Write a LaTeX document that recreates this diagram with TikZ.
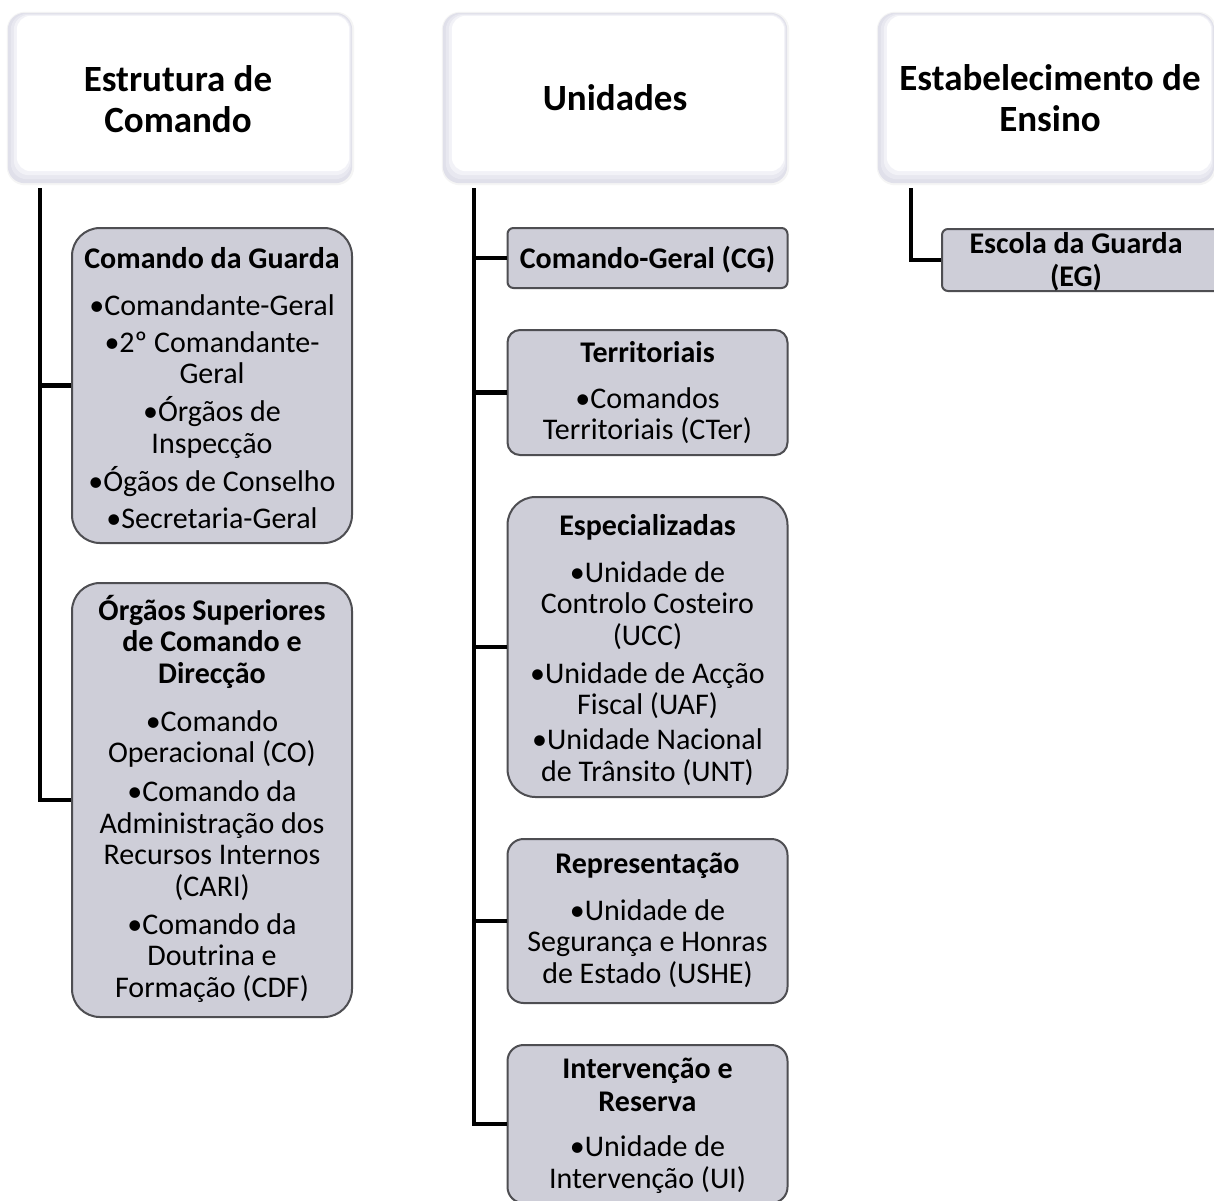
\documentclass[tikz,border=0pt]{standalone}
\usepackage{fontspec}
\setmainfont{Carlito}
\usetikzlibrary{backgrounds}
\definecolor{boxfill}{RGB}{206,206,216}
\definecolor{boxline}{RGB}{78,78,82}
\definecolor{bevA}{RGB}{224,224,234}
\definecolor{bevB}{RGB}{232,232,240}
\definecolor{bevC}{RGB}{242,242,247}
\newcommand\boxtitle[1]{\textbf{#1}}
\newcommand\firstline{\rule{0pt}{27pt}}
\newcommand\firsthead{\rule{0pt}{32pt}}
\newcommand\bevelbox[1]{%
  \fill[gray!8, rounded corners=18pt] ([xshift=-1pt,yshift=-2pt]#1.south west) rectangle ([xshift=2pt,yshift=1pt]#1.north east);
  \fill[bevA, rounded corners=17pt] (#1.south west) rectangle (#1.north east);
  \fill[bevB, rounded corners=16pt] ([xshift=3pt,yshift=4pt]#1.south west) rectangle ([xshift=-1pt,yshift=-1pt]#1.north east);
  \fill[bevC, rounded corners=15pt] ([xshift=6pt,yshift=8pt]#1.south west) rectangle ([xshift=-2pt,yshift=-2pt]#1.north east);
  \fill[white, rounded corners=14pt] ([xshift=9pt,yshift=12pt]#1.south west) rectangle ([xshift=-3pt,yshift=-3pt]#1.north east);
}
\begin{document}
\begin{tikzpicture}[x=1pt,y=-1pt,
  conn/.style={line width=4.5pt, black},
  hdrbox/.style={rectangle, inner sep=0pt, minimum height=170pt},
  subbox/.style={draw=boxline, line width=2pt, fill=boxfill, rectangle, inner sep=0pt, minimum width=280pt},
  hdrtext/.style={font=\fontsize{37}{41}\selectfont\bfseries, align=center, anchor=north, inner sep=0pt},
  bodytext/.style={font=\fontsize{30}{31.5}\selectfont, align=center, anchor=north, inner sep=0pt},
]
\useasboundingbox (0,0) rectangle (1214,1200);
\fill[white] (0,0) rectangle (1214,1200);

% header boxes
\node[hdrbox, minimum width=344pt] (h1) at (180,98) {};
\node[hdrbox, minimum width=344pt] (h2) at (615,98) {};
\node[hdrbox, minimum width=336pt] (h3) at (1046,98) {};
\bevelbox{h1}
\bevelbox{h2}
\bevelbox{h3}
\node[hdrtext] (h1T) at (178,59) {\firsthead Estrutura de\\Comando};
\node[hdrtext] (h2T) at (615,78) {\firsthead Unidades};
\node[hdrtext] (h3T) at (1050,58) {\firsthead Estabelecimento de\\Ensino};

% column 1
\node[subbox, minimum height=315pt, rounded corners=28pt] (cdg) at (212,385.5) {};
\node[subbox, minimum height=434pt, rounded corners=28pt] (osc) at (212,800) {};
\node[bodytext] (cdgT) at (212,241) {\firstline\boxtitle{Comando da Guarda}\\[15.5pt]
  •Comandante-Geral\\[5.5pt]
  •2º Comandante-\\Geral\\[6.5pt]
  •Órgãos de\\Inspecção\\[7pt]
  •Ógãos de Conselho\\[5.5pt]
  •Secretaria-Geral};
\node[bodytext] (oscT) at (212,593) {\firstline\boxtitle{Órgãos Superiores}\\\boxtitle{de Comando e}\\\boxtitle{Direcção}\\[16.5pt]
  •Comando\\Operacional (CO)\\[7.5pt]
  •Comando da\\Administração dos\\Recursos Internos\\(CARI)\\[6.5pt]
  •Comando da\\Doutrina e\\Formação (CDF)};

% column 2
\node[subbox, minimum height=60pt, rounded corners=6pt] (cg) at (647.5,258) {};
\node[subbox, minimum height=125pt, rounded corners=12.5pt] (ter) at (647.5,392.5) {};
\node[subbox, minimum height=300pt, rounded corners=28pt] (esp) at (647.5,647) {};
\node[subbox, minimum height=164pt, rounded corners=16pt] (rep) at (647.5,921) {};
\node[subbox, minimum height=158pt, rounded corners=16pt] (int) at (647.5,1124) {};
\node[bodytext] (cgT) at (647.5,241) {\firstline\boxtitle{Comando-Geral (CG)}};
\node[bodytext] (terT) at (647.5,335) {\firstline\boxtitle{Territoriais}\\[14.5pt]
  •Comandos\\Territoriais (CTer)};
\node[bodytext] (espT) at (647.5,508) {\firstline\boxtitle{Especializadas}\\[15.5pt]
  •Unidade de\\Controlo Costeiro\\(UCC)\\[6.5pt]
  •Unidade de Acção\\Fiscal (UAF)\\[3.5pt]
  •Unidade Nacional\\de Trânsito (UNT)};
\node[bodytext] (repT) at (647.5,846) {\firstline\boxtitle{Representação}\\[15.5pt]
  •Unidade de\\Segurança e Honras\\de Estado (USHE)};
\node[bodytext] (intT) at (647.5,1051) {\firstline\boxtitle{Intervenção e}\\[2pt]\boxtitle{Reserva}\\[13.5pt]
  •Unidade de\\Intervenção (UI)};

% column 3
\node[subbox, minimum height=62pt, rounded corners=6pt] (eg) at (1082,260) {};
\node[bodytext] (egT) at (1076,226) {\firstline\boxtitle{Escola da Guarda}\\[1.5pt]\boxtitle{(EG)}};

% connectors
\coordinate (t1) at (40,188);
\coordinate (t2) at (474,188);
\coordinate (t3) at (911,188);
\draw[conn] (t1) |- (cdg.west);
\draw[conn] (t1) |- (osc.west);
\draw[conn] (t2) |- (cg.west);
\draw[conn] (t2) |- (ter.west);
\draw[conn] (t2) |- (esp.west);
\draw[conn] (t2) |- (rep.west);
\draw[conn] (t2) |- (int.west);
\draw[conn] (t3) |- (eg.west);
\end{tikzpicture}
\end{document}
